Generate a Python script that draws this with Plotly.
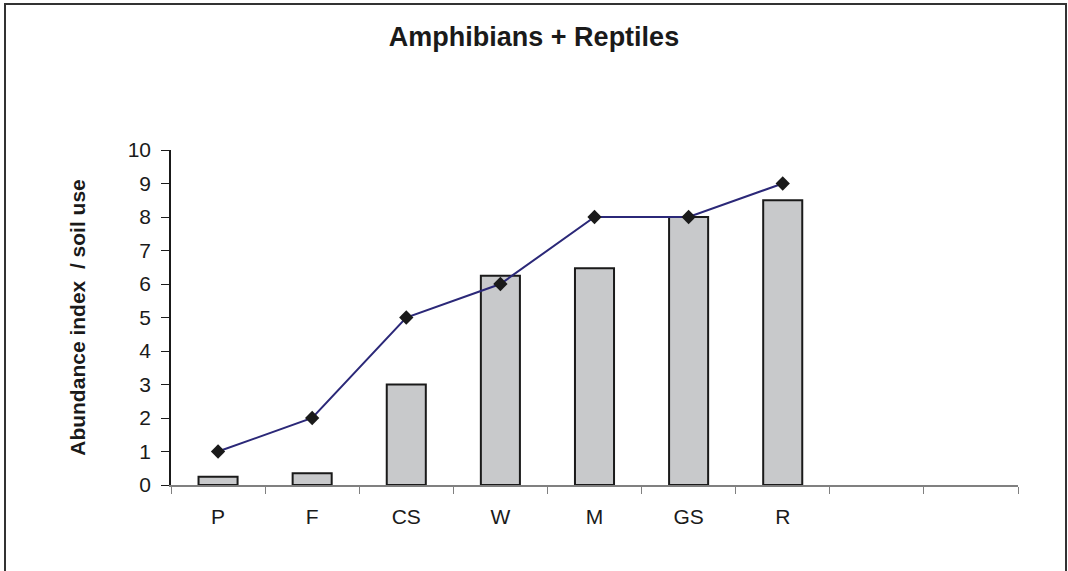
import plotly.graph_objects as go

categories = ["P", "F", "CS", "W", "M", "GS", "R", " ", "  "]
bar_categories = ["P", "F", "CS", "W", "M", "GS", "R"]
bar_values = [0.25, 0.35, 3.0, 6.25, 6.47, 8.0, 8.5]
line_values = [1, 2, 5, 6, 8, 8, 9]
y_ticks = list(range(0, 11))

fig = go.Figure()
fig.add_trace(go.Bar(
    x=bar_categories, y=bar_values,
    marker=dict(color="#c8c9cb", line=dict(color="#1a1a1a", width=2)),
    showlegend=False,
))
fig.add_trace(go.Scatter(
    x=bar_categories, y=line_values, mode="lines+markers",
    line=dict(color="#2b2878", width=2),
    marker=dict(symbol="diamond", size=11, color="#1a1a1a"),
    showlegend=False,
))

L, R, T, B = 171, 50, 150, 86
W, H = 1068, 571
pw, ph = W - L - R, H - T - B

def px_to_paper_x(px):
    return (px - L) / pw

def px_to_paper_y(py):
    return (H - B - py) / ph

fig.update_layout(
    width=W, height=H,
    margin=dict(l=L, r=R, t=T, b=B),
    paper_bgcolor="white", plot_bgcolor="white",
    bargap=0.585,
    font=dict(family="Liberation Sans, Arial, sans-serif", color="#1a1a1a"),
    title=dict(text="<b>Amphibians + Reptiles</b>", x=0.5, xanchor="center",
               y=1 - 37 / H, yanchor="middle", font=dict(size=27, color="#1a1a1a")),
    xaxis=dict(
        type="category", categoryorder="array", categoryarray=categories,
        range=[-0.5, 8.5], tickson="boundaries", ticks="outside", ticklen=7,
        tickcolor="#808080", showline=True, linecolor="#808080", linewidth=2,
        showgrid=False, zeroline=False, tickfont=dict(size=21), ticklabelstandoff=12,
    ),
    yaxis=dict(
        range=[0, 10], tickvals=y_ticks, ticks="outside", ticklen=8,
        tickcolor="#1a1a1a", showline=True, linecolor="#1a1a1a", linewidth=1.5,
        showgrid=False, zeroline=False, tickfont=dict(size=21), ticklabelstandoff=6,
        title=dict(text="<b>Abundance index  / soil use</b>", font=dict(size=21), standoff=36),
    ),
    shapes=[dict(
        type="rect", xref="paper", yref="paper",
        x0=px_to_paper_x(5), x1=px_to_paper_x(1066),
        y0=px_to_paper_y(580), y1=px_to_paper_y(4),
        line=dict(color="#333333", width=2), fillcolor="rgba(0,0,0,0)", layer="below",
    )],
)

fig.write_html("out.html", config={"displayModeBar": False},
               post_script="document.body.style.margin='0px';")
